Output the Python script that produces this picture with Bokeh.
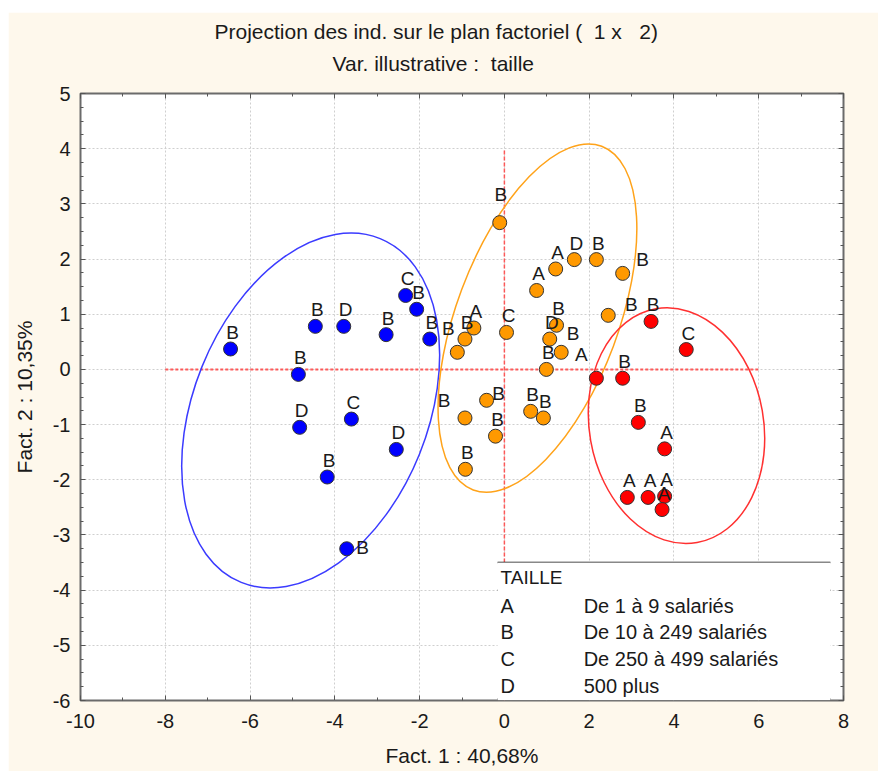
import numpy as np
from bokeh.plotting import figure
from bokeh.layouts import column, row
from bokeh.models import (Range1d, LinearAxis, FixedTicker, Label, LabelSet,
                          ColumnDataSource, BoxAnnotation, Title, Spacer)
from bokeh.core.properties import value
from bokeh.embed import file_html
from bokeh.resources import INLINE

# ---------------- data ----------------
blue_x = [-6.46, -4.86, -4.83, -4.46, -3.79, -3.61, -4.18, -3.72, -2.79, -2.33, -2.07, -1.76, -2.55]
blue_y = [0.37, -0.09, -1.05, 0.78, 0.78, -0.90, -1.95, -3.25, 0.63, 1.34, 1.09, 0.55, -1.45]
blue_lab = ["B", "B", "D", "B", "D", "C", "B", "B", "B", "C", "B", "B", "D"]

orange_x = [-0.11, 0.76, 1.21, 1.65, 2.17, 2.79, 2.45, 0.05, 1.23, 1.07, 1.34, 0.99,
            -0.72, -0.93, -1.11, -0.93, -0.42, -0.21, 0.62, 0.92, -0.92]
orange_y = [2.66, 1.43, 1.82, 1.99, 1.99, 1.74, 0.98, 0.67, 0.80, 0.55, 0.31, 0.00,
            0.75, 0.55, 0.31, -0.88, -0.56, -1.21, -0.76, -0.88, -1.81]
orange_lab = ["B", "A", "A", "D", "B", "B", "B", "C", "B", "D", "B", "B",
              "A", "B", "B", "B", "B", "B", "B", "B", "B"]

red_x = [3.46, 4.29, 2.17, 2.79, 3.16, 3.78, 2.90, 3.39, 3.78, 3.72]
red_y = [0.87, 0.36, -0.16, -0.16, -0.96, -1.44, -2.32, -2.32, -2.30, -2.54]
red_lab = ["B", "C", "A", "B", "B", "A", "A", "A", "A", "A"]

x_ticks = [-10, -8, -6, -4, -2, 0, 2, 4, 6, 8]
x_tick_labels = ["-10", "-8", "-6", "-4", "-2", "0", "2", "4", "6", "8"]
y_ticks = [-6, -5, -4, -3, -2, -1, 0, 1, 2, 3, 4, 5]
y_tick_labels = ["-6", "-5", "-4", "-3", "-2", "-1", "0", "1", "2", "3", "4", "5"]

legend_title = "TAILLE"
legend_codes = ["A", "B", "C", "D"]
legend_texts = ["De 1 à 9 salariés", "De 10 à 249 salariés",
                "De 250 à 499 salariés", "500 plus"]

NB = "\u00a0"
title_1 = "Projection des ind. sur le plan factoriel (" + NB + " 1 x " + NB + NB + "2)"
title_2 = "Var. illustrative :" + NB + " taille"
x_title = "Fact. 1 : 40,68%"
y_title = "Fact. 2 : 10,35%"

# hand-drawn group ellipses: centre, width, height (data units), tilt (deg)
ell_blue = dict(x=-4.57, y=-0.745, w=5.53, h=6.72, a=-22)
ell_orange = dict(x=0.78, y=0.93, w=3.82, h=6.65, a=-20.5)
ell_red = dict(x=4.06, y=-1.02, w=4.11, h=4.30, a=10)

# ---------------- style ----------------
FONT = "Liberation Sans"
TXT = "#1a1a1a"
CREAM = "#FEF8EC"

p = figure(width=870, height=759, output_backend="svg", toolbar_location=None,
           x_range=Range1d(-10, 8), y_range=Range1d(-6, 5),
           background_fill_color="white", border_fill_color=CREAM,
           min_border_left=72, min_border_right=35, min_border_top=81,
           min_border_bottom=71)
p.outline_line_color = "#6b6b6b"
p.outline_line_width = 2

bottom_ax = p.below[0]
left_ax = p.left[0]

x_minor = list(np.arange(-9, 8, 2))
y_minor = list(np.arange(-6, 5.01, 0.25))

bottom_ax.ticker = FixedTicker(ticks=x_ticks, minor_ticks=x_minor)
left_ax.ticker = FixedTicker(ticks=y_ticks, minor_ticks=y_minor)
bottom_ax.major_label_overrides = dict(zip(x_ticks, x_tick_labels))
left_ax.major_label_overrides = dict(zip(y_ticks, y_tick_labels))

top_ax = LinearAxis(ticker=FixedTicker(ticks=x_ticks, minor_ticks=x_minor))
right_ax = LinearAxis(ticker=FixedTicker(ticks=y_ticks, minor_ticks=y_minor))

for ax in [bottom_ax, left_ax, top_ax, right_ax]:
    ax.axis_line_color = None
    ax.major_tick_in = 5
    ax.major_tick_out = 0
    ax.minor_tick_in = 3
    ax.minor_tick_out = 0
    ax.major_tick_line_color = "#555555"
    ax.minor_tick_line_color = "#555555"
    ax.major_label_text_font = FONT
    ax.major_label_text_color = TXT
    ax.major_label_text_font_size = "20px"
    ax.axis_label_text_font = FONT
    ax.axis_label_text_font_style = "normal"
    ax.axis_label_text_color = TXT
    ax.axis_label_text_font_size = "21px"

top_ax.major_label_overrides = {t: "" for t in x_ticks}
right_ax.major_label_overrides = {t: "" for t in y_ticks}
for ax in [top_ax, right_ax]:
    ax.major_label_standoff = 0

p.add_layout(top_ax, "above")
p.add_layout(right_ax, "right")

bottom_ax.axis_label = x_title
bottom_ax.major_label_standoff = 13
bottom_ax.axis_label_standoff = 13
left_ax.axis_label = y_title
left_ax.major_label_standoff = 10
left_ax.axis_label_standoff = 14

p.xgrid.ticker = FixedTicker(ticks=x_ticks)
p.ygrid.ticker = FixedTicker(ticks=y_ticks)
for g in [p.xgrid, p.ygrid]:
    g.grid_line_color = "#cfcfcf"
    g.grid_line_dash = "2 2"
    g.grid_line_width = 1

# titles, stacked above the frame (later added = further out)
p.title.visible = False
p.add_layout(Title(text=title_2, align="left", offset=252, text_font=FONT,
                   text_font_size="21px", text_font_style="normal",
                   text_color=TXT, standoff=38), "above")
p.add_layout(Title(text=title_1, align="left", offset=134, text_font=FONT,
                   text_font_size="21px", text_font_style="normal",
                   text_color=TXT, standoff=-24), "above")

# factorial axes (dashed red)
p.segment(x0=[-8], y0=[0], x1=[6], y1=[0], line_color="#FF4040", line_alpha=0.85,
          line_width=2, line_dash="3 2")
p.segment(x0=[0], y0=[-6], x1=[0], y1=[4], line_color="#FF4040", line_alpha=0.85,
          line_width=1.5, line_dash="4 2")

# ellipses
for e, col in [(ell_blue, "#3b3bff"), (ell_orange, "#FFA31A"), (ell_red, "#FF3030")]:
    p.ellipse(x=[e["x"]], y=[e["y"]], width=[e["w"]], height=[e["h"]],
              angle=[e["a"]], angle_units="deg", fill_color=None,
              line_color=col, line_width=1.5)

# label placement tweaks (screen px) for crowded points
over = {
    ("blue", 7): (16, -5),
    ("orange", 0): (1, 22),
    ("orange", 5): (20, 7),
    ("orange", 6): (23, 4),
    ("orange", 10): (12, 12),
    ("orange", 14): (-9, 17),
    ("orange", 15): (-21, 11),
    ("orange", 16): (12, 0),
    ("red", 2): (-15, 17),
}

groups = [("blue", blue_x, blue_y, blue_lab, "#0000FF"),
          ("orange", orange_x, orange_y, orange_lab, "#FF9900"),
          ("red", red_x, red_y, red_lab, "#FF0000")]

for name, xs, ys, labs, col in groups:
    dx = [over.get((name, i), (2, 10))[0] for i in range(len(xs))]
    dy = [over.get((name, i), (2, 10))[1] for i in range(len(xs))]
    src = ColumnDataSource(dict(x=xs, y=ys, lab=labs, dx=dx, dy=dy))
    p.scatter("x", "y", source=src, size=14, fill_color=col,
              line_color="#333333", line_width=1)
    ls = LabelSet(x="x", y="y", text="lab", source=src, x_offset="dx", y_offset="dy",
                  text_align="center", text_baseline="alphabetic",
                  text_font=value(FONT), text_font_size="19px", text_color=TXT)
    p.add_layout(ls)

# legend table (in data coordinates, lower right of the frame)
leg_left, leg_right, leg_top, leg_bottom = -0.16, 7.69, -3.50, -5.98
p.add_layout(BoxAnnotation(left=leg_left, right=leg_right, top=leg_top, bottom=-6,
                           fill_color="white", fill_alpha=1, line_color=None))
p.segment(x0=[leg_left] * 3, x1=[leg_right] * 3, y0=[leg_top, -4.0, leg_bottom],
          y1=[leg_top, -4.0, leg_bottom], line_color="#111111",
          line_width=[1.5, 1.5, 2.5])
p.add_layout(Label(x=-0.09, y=-3.77, text=legend_title, text_baseline="middle",
                   text_font=FONT, text_font_size="19px", text_color=TXT))
for i, (c, t) in enumerate(zip(legend_codes, legend_texts)):
    yy = -4.28 - 0.485 * i
    p.add_layout(Label(x=-0.09, y=yy, text=c, text_baseline="middle",
                       text_font=FONT, text_font_size="20px", text_color=TXT))
    p.add_layout(Label(x=1.87, y=yy, text=t, text_baseline="middle",
                       text_font=FONT, text_font_size="20px", text_color=TXT))

page = column(Spacer(width=878, height=12),
              row(Spacer(width=8, height=759), p))

open("out.html", "w").write(file_html(page, INLINE))
